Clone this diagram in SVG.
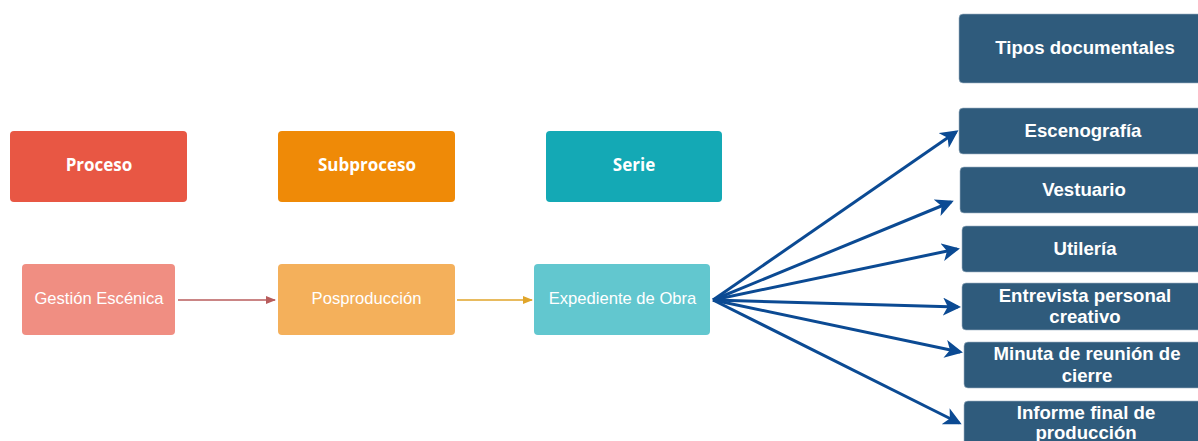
<svg xmlns="http://www.w3.org/2000/svg" width="1198" height="441" viewBox="0 0 1198 441">
<style>
.hdr{font-family:"Open Sans","Liberation Sans",sans-serif;font-weight:bold;font-size:17px;fill:#fff;text-anchor:middle}
.lbl{font-family:"Liberation Sans",Arial,sans-serif;font-size:16.6px;fill:#fff;text-anchor:middle}
.doc rect{fill:#2f5b7c;stroke:#9fb3c4;stroke-width:0.6}
.doc text{font-family:"Liberation Sans",Arial,sans-serif;font-weight:bold;font-size:18.6px;fill:#fff;text-anchor:middle}
.blue{stroke:#0b4a93;stroke-width:3;fill:none;marker-end:url(#ab)}
</style>
<defs>
<marker id="ab" markerWidth="6" markerHeight="6" refX="5" refY="3" orient="auto" markerUnits="strokeWidth" viewBox="0 0 6 6">
<path d="M0,0 L6,3 L0,6 L1.6,3 Z" fill="#0b4a93"/>
</marker>
<marker id="ar" markerWidth="10" markerHeight="10" refX="9" refY="5" orient="auto" markerUnits="userSpaceOnUse" viewBox="0 0 10 10">
<path d="M0,1 L10,5 L0,9 Z" fill="#b85c5c"/>
</marker>
<marker id="ay" markerWidth="10" markerHeight="10" refX="9" refY="5" orient="auto" markerUnits="userSpaceOnUse" viewBox="0 0 10 10">
<path d="M0,1 L10,5 L0,9 Z" fill="#e0a52a"/>
</marker>
</defs>
<rect width="1198" height="441" fill="#fff"/>
<g id="proceso"><rect x="10" y="131" width="177" height="71" rx="4" fill="#e85744"/><text class="hdr" x="99" y="171">Proceso</text></g>
<g id="subproceso"><rect x="278" y="131" width="177" height="71" rx="4" fill="#ef8a07"/><text class="hdr" x="367" y="171">Subproceso</text></g>
<g id="serie"><rect x="546" y="131" width="176" height="71" rx="4" fill="#14a9b5"/><text class="hdr" x="634" y="171">Serie</text></g>
<g id="gestion"><rect x="22" y="264" width="153" height="71" rx="4" fill="#f08e82"/><text class="lbl" x="99" y="304">Gestión Escénica</text></g>
<g id="posproduccion"><rect x="278" y="264" width="177" height="71" rx="4" fill="#f4b05b"/><text class="lbl" x="366.5" y="304">Posproducción</text></g>
<g id="expediente"><rect x="534" y="264" width="176" height="71" rx="4" fill="#62c7cf"/><text class="lbl" x="622.5" y="304">Expediente de Obra</text></g>
<g id="tipos" class="doc"><rect x="959" y="14" width="252" height="69" rx="4"/><text x="1085" y="54">Tipos documentales</text></g>
<g id="escenografia" class="doc"><rect x="959" y="108" width="252" height="46" rx="4"/><text x="1083" y="137">Escenografía</text></g>
<g id="vestuario" class="doc"><rect x="960" y="167" width="252" height="46" rx="4"/><text x="1084" y="196">Vestuario</text></g>
<g id="utileria" class="doc"><rect x="962" y="226" width="252" height="46" rx="4"/><text x="1085" y="255">Utilería</text></g>
<g id="entrevista" class="doc"><rect x="962" y="283" width="252" height="47" rx="4"/><text x="1085" y="302">Entrevista personal</text><text x="1085" y="323">creativo</text></g>
<g id="minuta" class="doc"><rect x="964" y="342" width="252" height="46" rx="4"/><text x="1087" y="360">Minuta de reunión de</text><text x="1087" y="382">cierre</text></g>
<g id="informe" class="doc"><rect x="964" y="401" width="252" height="50" rx="4"/><text x="1086" y="419">Informe final de</text><text x="1086" y="439">producción</text></g>
<g id="connectors">
<line x1="178" y1="300" x2="275" y2="300" stroke="#b85c5c" stroke-width="1.3" marker-end="url(#ar)"/>
<line x1="457" y1="300" x2="532" y2="300" stroke="#e0a52a" stroke-width="1.3" marker-end="url(#ay)"/>
<line class="blue" x1="713" y1="300" x2="956" y2="132"/>
<line class="blue" x1="713" y1="300" x2="951" y2="202"/>
<line class="blue" x1="713" y1="300" x2="957" y2="249"/>
<line class="blue" x1="713" y1="300" x2="958" y2="307"/>
<line class="blue" x1="713" y1="300" x2="960" y2="352"/>
<line class="blue" x1="713" y1="300" x2="959" y2="423"/>
</g>
</svg>
